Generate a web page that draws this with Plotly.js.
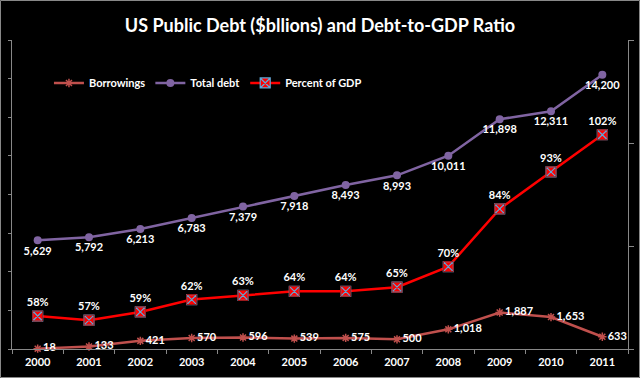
<!DOCTYPE html>
<html>
<head>
<meta charset="utf-8">
<script src="https://cdn.plot.ly/plotly-3.0.1.min.js"></script>
<style>
html,body{margin:0;padding:0;background:#000;}
#chart{width:640px;height:378px;}
</style>
</head>
<body>
<div id="chart"></div>
<script>
const years = ["2000","2001","2002","2003","2004","2005","2006","2007","2008","2009","2010","2011"];
const borrowings = [18, 133, 421, 570, 596, 539, 575, 500, 1018, 1887, 1653, 633];
const totalDebt = [5629, 5792, 6213, 6783, 7379, 7918, 8493, 8993, 10011, 11898, 12311, 14200];
const percentGDP = [58, 57, 59, 62, 63, 64, 64, 65, 70, 84, 93, 102];

const FONT = "Lato, 'Open Sans', sans-serif";
const labelFont = {family: FONT, size: 11, color: "#ffffff", weight: "bold"};

const traces = [
  {
    x: years, y: borrowings, name: "Borrowings", type: "scatter", mode: "lines+markers+text",
    line: {color: "#c0504d", width: 2.5},
    marker: {symbol: "asterisk-open", size: 7, color: "#c0504d", line: {color: "#c0504d", width: 1.5}},
    texttemplate: "%{y:,}", textposition: "middle right", textfont: labelFont,
    cliponaxis: false
  },
  {
    x: years, y: totalDebt, name: "Total debt", type: "scatter", mode: "lines+markers+text",
    line: {color: "#8064a2", width: 2.5},
    marker: {symbol: "circle", size: 8, color: "#8064a2"},
    texttemplate: "%{y:,}", textposition: "bottom center", textfont: labelFont,
    cliponaxis: false
  },
  {
    x: years, y: percentGDP, name: "Percent of GDP", type: "scatter", mode: "lines+markers+text",
    yaxis: "y2",
    line: {color: "#ff0000", width: 2.5},
    marker: {symbol: "square-x", size: 10, color: "#ff0000", line: {color: "#5fa8d8", width: 1.2}},
    texttemplate: "%{y}%", textposition: "top center", textfont: labelFont,
    cliponaxis: false
  },
  {
    x: years, y: percentGDP, name: "Percent of GDP outline", type: "scatter", mode: "markers",
    yaxis: "y2", showlegend: false, hoverinfo: "skip",
    marker: {symbol: "square-open", size: 10, color: "#a01010", line: {color: "#a01010", width: 1}},
    cliponaxis: false
  }
];

const layout = {
  width: 640, height: 378,
  paper_bgcolor: "#000000", plot_bgcolor: "#000000",
  margin: {l: 12, r: 12, t: 40, b: 29, pad: 0},
  font: {family: FONT, color: "#ffffff"},
  title: {
    text: "US Public Debt ($bllions) and Debt-to-GDP Ratio",
    font: {family: FONT, size: 18, color: "#ffffff", weight: "bold"},
    x: 0.5, xanchor: "center", y: 1 - 26/378, yref: "container", yanchor: "middle"
  },
  showlegend: true,
  legend: {
    orientation: "h", x: 0.06, xanchor: "left", y: 0.861, yanchor: "middle",
    bgcolor: "rgba(0,0,0,0)", font: {family: FONT, size: 11, color: "#ffffff", weight: "bold"},
    itemwidth: 30
  },
  xaxis: {
    type: "category", range: [-0.5, 11.5], tickson: "boundaries",
    ticks: "outside", ticklen: 4, tickcolor: "#888888",
    showline: true, linecolor: "#888888", linewidth: 1,
    showgrid: false, zeroline: false, ticklabelstandoff: 3,
    tickfont: {family: FONT, size: 11, color: "#ffffff", weight: "bold"}
  },
  yaxis: {
    range: [0, 16000], dtick: 2000, showticklabels: false,
    ticks: "outside", ticklen: 3, tickcolor: "#888888",
    showline: true, linecolor: "#888888", linewidth: 1,
    showgrid: false, zeroline: false
  },
  yaxis2: {
    overlaying: "y", side: "right", range: [50, 125], dtick: 25, showticklabels: false,
    ticks: "outside", ticklen: 5, tickcolor: "#888888",
    showline: true, linecolor: "#888888", linewidth: 1,
    showgrid: false, zeroline: false
  },
  shapes: [
    {type: "rect", xref: "paper", yref: "paper",
     x0: -11.5/616, x1: 1 + 11.5/616, y0: -28.5/309, y1: 1 + 39.5/309,
     line: {color: "#888888", width: 1}, fillcolor: "rgba(0,0,0,0)"}
  ]
};

Plotly.newPlot("chart", traces, layout, {displayModeBar: false, staticPlot: true});
</script>
</body>
</html>
